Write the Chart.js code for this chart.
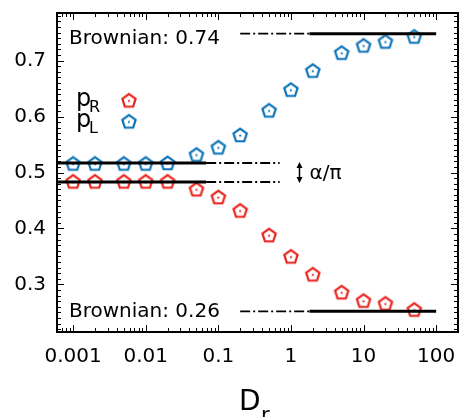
<!DOCTYPE html>
<html>
<head>
<meta charset="utf-8">
<script src="https://cdn.jsdelivr.net/npm/chart.js@4"></script>
<style>
  html, body { margin: 0; padding: 0; background: #fff; overflow: hidden; }
  #wrap { width: 460px; height: 417px; }
  canvas { display: block; }
</style>
</head>
<body>
<div id="wrap"><canvas id="chart" width="460" height="417"></canvas></div>
<script>
// Data
const drValues = [0.001, 0.002, 0.005, 0.01, 0.02, 0.05, 0.1, 0.2, 0.5, 1, 2, 5, 10, 20, 50];
const pR = [0.484, 0.484, 0.484, 0.484, 0.484, 0.470, 0.456, 0.432, 0.388, 0.350, 0.318, 0.286, 0.271, 0.266, 0.255];
const pL = [0.516, 0.516, 0.516, 0.516, 0.517, 0.532, 0.545, 0.567, 0.611, 0.648, 0.682, 0.714, 0.727, 0.734, 0.743];
const xTickValues = [0.001, 0.01, 0.1, 1, 10, 100];
const xTickLabels = ['0.001', '0.01', '0.1', '1', '10', '100'];
const yTickValues = [0.3, 0.4, 0.5, 0.6, 0.7];

// Reference levels
const alphaHigh = 0.517, alphaLow = 0.483;
const brownHigh = 0.748, brownLow = 0.252;
const alphaSolidX = [0.0006, 0.068];
const alphaDashX = [0.068, 0.7];
const brownDashX = [0.2, 1.8];
const brownSolidX = [1.8, 100];

const RED = '#e8211a';
const BLUE = '#0a72b8';
const FONT = "'DejaVu Sans', sans-serif";

// pentagon marker with a centre dot
function pentagon(color) {
  const c = document.createElement('canvas');
  c.width = 20; c.height = 20;
  const g = c.getContext('2d');
  g.strokeStyle = color;
  g.lineWidth = 2.2;
  g.lineJoin = 'miter';
  g.beginPath();
  for (let k = 0; k < 5; k++) {
    const a = -Math.PI / 2 + k * 2 * Math.PI / 5;
    const px = 10 + 7 * Math.cos(a), py = 10.6 + 7 * Math.sin(a);
    if (k === 0) g.moveTo(px, py); else g.lineTo(px, py);
  }
  g.closePath();
  g.stroke();
  g.fillStyle = color;
  g.beginPath();
  g.arc(10, 10.6, 1.1, 0, Math.PI * 2);
  g.fill();
  return c;
}
const redMark = pentagon(RED);
const blueMark = pentagon(BLUE);

const seg = (xs, y) => xs.map(x => ({ x, y }));
const pts = (ys) => drValues.map((x, i) => ({ x, y: ys[i] }));

const solid = { borderColor: '#000', borderWidth: 3, pointRadius: 0, showLine: true, fill: false };
const dashdot = { borderColor: '#000', borderWidth: 1.8, pointRadius: 0, showLine: true, fill: false, borderDash: [10, 3, 2, 3] };

// Frame, inward ticks and text annotations
const decorPlugin = {
  id: 'decor',
  afterDraw(chart) {
    const { ctx, chartArea: a, scales: { x, y } } = chart;
    ctx.save();
    ctx.strokeStyle = '#000';
    ctx.lineWidth = 1;
    ctx.beginPath();
    // x ticks (top and bottom)
    for (let e = -4; e <= 2; e++) {
      for (let k = 1; k <= 9; k++) {
        const v = k * Math.pow(10, e);
        if (v < x.min || v > x.max) continue;
        const px = Math.round(x.getPixelForValue(v)) + 0.5;
        const len = k === 1 ? 7 : 4;
        ctx.moveTo(px, a.bottom); ctx.lineTo(px, a.bottom - len);
        ctx.moveTo(px, a.top); ctx.lineTo(px, a.top + len);
      }
    }
    // y ticks (left and right)
    for (let i = 22; i <= 78; i++) {
      const py = Math.round(y.getPixelForValue(i / 100)) + 0.5;
      const len = i % 10 === 0 ? 7 : 4;
      ctx.moveTo(a.left, py); ctx.lineTo(a.left + len, py);
      ctx.moveTo(a.right, py); ctx.lineTo(a.right - len, py);
    }
    ctx.stroke();

    // frame
    ctx.lineWidth = 2;
    ctx.strokeRect(a.left, a.top, a.right - a.left, a.bottom - a.top);

    // annotations
    ctx.fillStyle = '#000';
    ctx.font = `20px ${FONT}`;
    ctx.textAlign = 'left';
    ctx.textBaseline = 'alphabetic';
    ctx.fillText('Brownian: 0.74', 69, y.getPixelForValue(brownHigh) + 10);
    ctx.fillText('Brownian: 0.26', 69, y.getPixelForValue(brownLow) + 6);

    // alpha/pi arrow
    const ax = Math.round(x.getPixelForValue(1.28)) + 0.5;
    const y1 = y.getPixelForValue(alphaHigh), y2 = y.getPixelForValue(alphaLow);
    ctx.lineWidth = 1.5;
    ctx.beginPath();
    ctx.moveTo(ax, y1 + 2); ctx.lineTo(ax, y2 - 2);
    ctx.stroke();
    ctx.beginPath();
    ctx.moveTo(ax, y1 - 1); ctx.lineTo(ax - 3, y1 + 5); ctx.lineTo(ax + 3, y1 + 5); ctx.closePath();
    ctx.moveTo(ax, y2 + 1); ctx.lineTo(ax - 3, y2 - 5); ctx.lineTo(ax + 3, y2 - 5); ctx.closePath();
    ctx.fill();
    ctx.textBaseline = 'middle';
    ctx.fillText('α/π', ax + 10, (y1 + y2) / 2 + 1);

    // legend
    ctx.textBaseline = 'alphabetic';
    ctx.font = `24px ${FONT}`;
    ctx.fillText('p', 76, 106);
    ctx.fillText('p', 76, 127);
    ctx.font = `16px ${FONT}`;
    ctx.fillText('R', 89, 112);
    ctx.fillText('L', 89, 133);
    ctx.drawImage(redMark, 129 - 10, 101 - 10.6);
    ctx.drawImage(blueMark, 129 - 10, 122 - 10.6);

    // x axis title
    ctx.font = `28px ${FONT}`;
    ctx.fillText('D', 239, 410);
    ctx.font = `21px ${FONT}`;
    ctx.fillText('r', 261, 422);
    ctx.restore();
  }
};

new Chart(document.getElementById('chart'), {
  type: 'scatter',
  data: {
    datasets: [
      { ...solid, data: seg(alphaSolidX, alphaHigh) },
      { ...solid, data: seg(alphaSolidX, alphaLow) },
      { ...dashdot, data: seg(alphaDashX, alphaHigh) },
      { ...dashdot, data: seg(alphaDashX, alphaLow) },
      { ...dashdot, data: seg(brownDashX, brownHigh) },
      { ...dashdot, data: seg(brownDashX, brownLow) },
      { ...solid, data: seg(brownSolidX, brownHigh) },
      { ...solid, data: seg(brownSolidX, brownLow) },
      { label: 'pR', data: pts(pR), pointStyle: redMark, pointRadius: 7, borderColor: RED, backgroundColor: RED },
      { label: 'pL', data: pts(pL), pointStyle: blueMark, pointRadius: 7, borderColor: BLUE, backgroundColor: BLUE }
    ]
  },
  options: {
    responsive: false,
    animation: false,
    layout: { autoPadding: false, padding: { top: 13, right: 2, left: 0, bottom: 0 } },
    plugins: { legend: { display: false }, tooltip: { enabled: false } },
    scales: {
      x: {
        type: 'logarithmic',
        min: 0.0006,
        max: 200,
        grid: { display: false, drawTicks: true, tickLength: 9 },
        border: { display: false },
        afterBuildTicks: (s) => { s.ticks = xTickValues.map(v => ({ value: v })); },
        afterFit: (s) => { s.height = 85; },
        ticks: {
          autoSkip: false,
          maxRotation: 0,
          padding: 4,
          color: '#000',
          font: { family: FONT, size: 20 },
          callback: (v) => xTickLabels[xTickValues.indexOf(v)] ?? ''
        }
      },
      y: {
        min: 0.215,
        max: 0.785,
        grid: { display: false, drawTicks: false },
        border: { display: false },
        afterBuildTicks: (s) => { s.ticks = yTickValues.map(v => ({ value: v })); },
        afterFit: (s) => { s.width = 57; s.paddingTop = 0; s.paddingBottom = 0; },
        ticks: {
          padding: 11,
          color: '#000',
          font: { family: FONT, size: 20 },
          callback: (v) => v.toFixed(1)
        }
      }
    }
  },
  plugins: [decorPlugin]
});
</script>
</body>
</html>
